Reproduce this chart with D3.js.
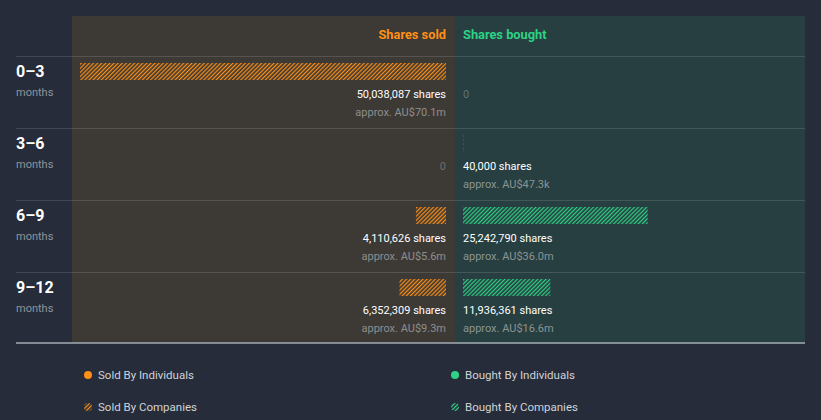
<!DOCTYPE html>
<html><head><meta charset="utf-8">
<script src="https://cdn.jsdelivr.net/npm/d3@7"></script>
<style>
body{margin:0;background:#262c3a;}
svg{display:block;font-family:Roboto,"Noto Sans",sans-serif;}
</style></head><body>
<svg id="c" width="821" height="420"></svg>
<script>
const periods = ["0–3","3–6","6–9","9–12"];
const periodUnit = "months";
const soldShares = [50038087, 0, 4110626, 6352309];
const soldValue = ["AU$70.1m", null, "AU$5.6m", "AU$9.3m"];
const boughtShares = [0, 40000, 25242790, 11936361];
const boughtValue = [null, "AU$47.3k", "AU$36.0m", "AU$16.6m"];
const legendItems = ["Sold By Individuals","Sold By Companies","Bought By Individuals","Bought By Companies"];

const ORANGE = "#ff9016", GREEN = "#2ed286";
const svg = d3.select("#c");
const defs = svg.append("defs");
function hatch(id, color, size, w){
  const p = defs.append("pattern").attr("id", id).attr("patternUnits","userSpaceOnUse")
    .attr("width", size).attr("height", size).attr("patternTransform","rotate(45)");
  p.append("rect").attr("x",0).attr("y",0).attr("width",w).attr("height",size).attr("fill",color);
}
hatch("hO", ORANGE, 2.9, 1.2);
hatch("hG", GREEN, 2.9, 1.2);

const top0 = 56, rowH = 72;
const soldRight = 446, boughtLeft = 463;
const x = d3.scaleLinear().domain([0, d3.max(soldShares.concat(boughtShares))]).range([0, 366]);
const y = d3.scaleBand().domain(periods).range([top0, top0 + rowH*periods.length]);

// panels
svg.append("rect").attr("x",72).attr("y",16).attr("width",383).attr("height",327).attr("fill","#3d3935");
svg.append("rect").attr("x",455).attr("y",16).attr("width",350).attr("height",327).attr("fill","#273f40");

// header
svg.append("text").attr("x",soldRight).attr("y",39).attr("text-anchor","end").attr("fill",ORANGE)
  .attr("font-size",12.8).attr("font-weight",700).text("Shares sold");
svg.append("text").attr("x",boughtLeft).attr("y",39).attr("fill",GREEN)
  .attr("font-size",12.8).attr("font-weight",700).text("Shares bought");

// row lines
periods.forEach(p=>{
  svg.append("line").attr("x1",16).attr("x2",805).attr("y1",y(p)+0.5).attr("y2",y(p)+0.5)
    .attr("stroke","rgba(255,255,255,0.13)");
});
svg.append("line").attr("x1",16).attr("x2",805).attr("y1",343).attr("y2",343)
  .attr("stroke","#a3acb5").attr("stroke-width",1.5);

const fmt = d3.format(",");
periods.forEach((p,i)=>{
  const t = y(p);
  svg.append("text").attr("x",16).attr("y",t+21).attr("fill","#fff").attr("font-size",16).attr("font-weight",700).text(p);
  svg.append("text").attr("x",16).attr("y",t+40).attr("fill","#8e949b").attr("font-size",11).text(periodUnit);

  // sold
  if (soldShares[i] > 0) {
    svg.append("rect").attr("x",soldRight - x(soldShares[i])).attr("y",t+7).attr("width",x(soldShares[i])).attr("height",17).attr("fill","url(#hO)");
    svg.append("text").attr("x",soldRight).attr("y",t+42).attr("text-anchor","end").attr("fill","#fff").attr("font-size",11).text(fmt(soldShares[i])+" shares");
    svg.append("text").attr("x",soldRight).attr("y",t+60).attr("text-anchor","end").attr("fill","#8e8e8e").attr("font-size",11).text("approx. "+soldValue[i]);
  } else {
    svg.append("text").attr("x",soldRight).attr("y",t+42).attr("text-anchor","end").attr("fill","#6e6e6e").attr("font-size",11).text("0");
  }
  // bought
  if (boughtShares[i] > 0) {
    svg.append("rect").attr("x",boughtLeft).attr("y",t+7).attr("width",x(boughtShares[i])).attr("height",17).attr("fill","url(#hG)");
    svg.append("text").attr("x",boughtLeft).attr("y",t+42).attr("fill","#fff").attr("font-size",11).text(fmt(boughtShares[i])+" shares");
    svg.append("text").attr("x",boughtLeft).attr("y",t+60).attr("fill","#8a9494").attr("font-size",11).text("approx. "+boughtValue[i]);
  } else {
    svg.append("text").attr("x",boughtLeft).attr("y",t+42).attr("fill","#5e7272").attr("font-size",11).text("0");
  }
});

// legend
const lg = [{cx:88,cy:375,c:ORANGE,h:false},{cx:88,cy:407,c:ORANGE,h:"hO"},{cx:455,cy:375,c:GREEN,h:false},{cx:455,cy:407,c:GREEN,h:"hG"}];
lg.forEach((d,i)=>{
  svg.append("circle").attr("cx",d.cx).attr("cy",d.cy).attr("r",4).attr("fill", d.h ? "url(#"+d.h+")" : d.c);
  svg.append("text").attr("x",d.cx+10).attr("y",d.cy+4).attr("fill","#cfd3d8").attr("font-size",11.5).text(legendItems[i]);
});
</script></body></html>
